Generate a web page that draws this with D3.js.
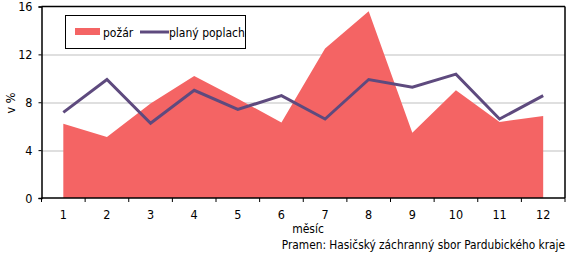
<!DOCTYPE html>
<html>
<head>
<meta charset="utf-8">
<script src="https://cdn.jsdelivr.net/npm/d3@7"></script>
<style>
  body { margin: 0; background: #fff; }
  svg text { font-family: "DejaVu Sans Condensed", "DejaVu Sans", sans-serif; font-stretch: condensed; fill: #000; }
</style>
</head>
<body>
<div id="chart"></div>
<script>
// months and the two series (v %)
const months = [1, 2, 3, 4, 5, 6, 7, 8, 9, 10, 11, 12];
const pozar = [6.2, 5.1, 7.9, 10.2, 8.3, 6.3, 12.5, 15.6, 5.45, 9.0, 6.35, 6.85];
const planyPoplach = [7.15, 9.9, 6.25, 9.0, 7.4, 8.55, 6.6, 9.9, 9.25, 10.35, 6.6, 8.55];
const yTicks = [0, 4, 8, 12, 16];

const width = 567, height = 254;
const margin = { top: 6.5, right: 2, bottom: 56, left: 41.5 };
const w = width - margin.left - margin.right;
const h = height - margin.top - margin.bottom;

const svg = d3.select("#chart").append("svg")
    .attr("width", width)
    .attr("height", height);

const g = svg.append("g")
    .attr("transform", `translate(${margin.left},${margin.top})`);

const x = d3.scaleBand().domain(months).range([0, w]);
const y = d3.scaleLinear().domain([0, 16]).range([h, 0]);
const cx = d => x(d) + x.bandwidth() / 2;

// gridlines
g.selectAll(".grid").data(yTicks.filter(t => t > 0 && t < 16)).enter()
    .append("line")
    .attr("x1", 0).attr("x2", w)
    .attr("y1", d => Math.round(y(d)) + 0.5).attr("y2", d => Math.round(y(d)) + 0.5)
    .attr("stroke", "#bfbfbf").attr("stroke-width", 1);

// area for požár
const area = d3.area()
    .x((d, i) => cx(months[i]))
    .y0(y(0))
    .y1(d => y(d));
g.append("path").datum(pozar)
    .attr("d", area)
    .attr("fill", "#f46464");

// line for planý poplach
const line = d3.line()
    .x((d, i) => cx(months[i]))
    .y(d => y(d));
g.append("path").datum(planyPoplach)
    .attr("d", line)
    .attr("fill", "none")
    .attr("stroke", "#5e4a7e")
    .attr("stroke-width", 3)
    .attr("stroke-linejoin", "miter");

// frame top and right
g.append("line").attr("x1", 0).attr("x2", w).attr("y1", 0).attr("y2", 0)
    .attr("stroke", "#000").attr("stroke-width", 1.5);
g.append("line").attr("x1", w).attr("x2", w).attr("y1", 0).attr("y2", h)
    .attr("stroke", "#000").attr("stroke-width", 1.5);

// y axis
const yAxis = g.append("g")
    .call(d3.axisLeft(y).tickValues(yTicks).tickSize(3).tickPadding(6));
yAxis.select(".domain").attr("stroke-width", 1.5);
yAxis.selectAll("text").attr("font-size", 12.5);

// x axis: ticks on band boundaries
const xAxis = g.append("g").attr("transform", `translate(0,${h})`);
xAxis.append("line").attr("x1", 0).attr("x2", w).attr("stroke", "#000").attr("stroke-width", 1.5);
xAxis.selectAll(".tk").data(months.concat([13])).enter()
    .append("line")
    .attr("x1", d => d <= 12 ? x(d) : w)
    .attr("x2", d => d <= 12 ? x(d) : w)
    .attr("y1", 0).attr("y2", 4)
    .attr("stroke", "#000").attr("stroke-width", 1);
xAxis.selectAll(".lbl").data(months).enter()
    .append("text")
    .attr("x", d => cx(d))
    .attr("y", 21)
    .attr("text-anchor", "middle")
    .attr("font-size", 12.5)
    .text(d => d);

// axis titles
svg.append("text")
    .attr("transform", "translate(15,103) rotate(-90)")
    .attr("text-anchor", "middle")
    .attr("font-size", 12.5)
    .text("v %");
svg.append("text")
    .attr("x", 308).attr("y", 233)
    .attr("text-anchor", "middle")
    .attr("font-size", 12)
    .text("měsíc");
svg.append("text")
    .attr("x", 565).attr("y", 249)
    .attr("text-anchor", "end")
    .attr("font-size", 11.8)
    .text("Pramen: Hasičský záchranný sbor Pardubického kraje");

// legend
const lg = svg.append("g");
lg.append("rect")
    .attr("x", 65.5).attr("y", 15.5).attr("width", 180).attr("height", 33)
    .attr("fill", "#fff").attr("stroke", "#000").attr("stroke-width", 1);
lg.append("rect")
    .attr("x", 75).attr("y", 28).attr("width", 25).attr("height", 7)
    .attr("fill", "#f46464");
lg.append("text").attr("x", 103).attr("y", 37).attr("font-size", 12).text("požár");
lg.append("line")
    .attr("x1", 140).attr("x2", 169).attr("y1", 32).attr("y2", 32)
    .attr("stroke", "#5e4a7e").attr("stroke-width", 3);
lg.append("text").attr("x", 169).attr("y", 37).attr("font-size", 12).text("planý poplach");
</script>
</body>
</html>
